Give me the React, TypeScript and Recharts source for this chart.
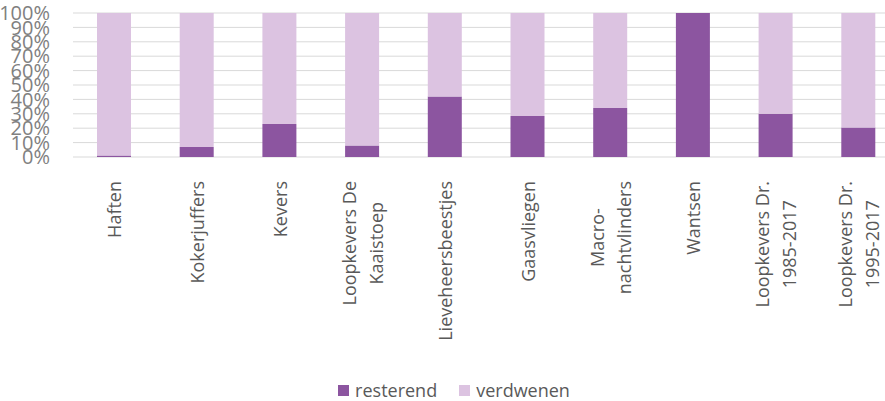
import React from 'react';
import { BarChart, Bar, XAxis, YAxis, CartesianGrid, Legend } from 'recharts';

const categories = [
  'Haften',
  'Kokerjuffers',
  'Kevers',
  'Loopkevers De\nKaaistoep',
  'Lieveheersbeestjes',
  'Gaasvliegen',
  'Macro-\nnachtvlinders',
  'Wantsen',
  'Loopkevers Dr.\n1985-2017',
  'Loopkevers Dr.\n1995-2017',
];
const resterend = [1, 7, 23, 8, 42, 28.5, 34, 100, 30, 20.5];
const verdwenen = resterend.map((v) => 100 - v);
const yTicks = [0, 10, 20, 30, 40, 50, 60, 70, 80, 90, 100];

const data = categories.map((name, i) => ({
  name,
  resterend: resterend[i],
  verdwenen: verdwenen[i],
}));

const DARK = '#8c55a0';
const LIGHT = '#dcc3e1';
const TEXT = '#595959';

let ctx: CanvasRenderingContext2D | null = null;
function measure(s: string, font: string) {
  if (!ctx) ctx = document.createElement('canvas').getContext('2d');
  if (!ctx) return s.length * 9.5;
  ctx.font = font;
  return ctx.measureText(s).width;
}

function CategoryTick({ x, y, payload }: any) {
  const lines = String(payload.value).split('\n');
  const font = "18px 'Open Sans'";
  const maxLen = Math.max(...lines.map((l) => measure(l, font)));
  const top = y + 16;
  const n = lines.length;
  return (
    <text
      transform={`translate(${x}, ${top}) rotate(-90)`}
      fontFamily="'Open Sans', sans-serif"
      fontSize={18}
      fill={TEXT}
      textAnchor="middle"
    >
      {lines.map((l, i) => (
        <tspan key={i} x={-maxLen / 2} y={7 + (i - (n - 1) / 2) * 27}>
          {l}
        </tspan>
      ))}
    </text>
  );
}

function PercentTick({ y, payload }: any) {
  return (
    <text
      x={50}
      y={y}
      dy="0.36em"
      textAnchor="end"
      fontFamily="'Open Sans', sans-serif"
      fontSize={20}
      fill="#808080"
    >
      {`${payload.value}%`}
    </text>
  );
}

function LegendContent() {
  const items = [
    { label: 'resterend', color: DARK },
    { label: 'verdwenen', color: LIGHT },
  ];
  return (
    <div
      style={{
        display: 'flex',
        justifyContent: 'center',
        gap: 22,
        fontFamily: "'Open Sans', sans-serif",
        fontSize: 18,
        lineHeight: '18px',
        color: TEXT,
        height: 30,
        boxSizing: 'border-box',
        paddingTop: 8,
        paddingLeft: 8,
        alignItems: 'center',
      }}
    >
      {items.map((it) => (
        <div key={it.label} style={{ display: 'flex', alignItems: 'center' }}>
          <span style={{ width: 11, height: 11, background: it.color, marginRight: 6, display: 'inline-block' }} />
          <span>{it.label}</span>
        </div>
      ))}
    </div>
  );
}

export default function App() {
  return (
    <div style={{ position: 'absolute', left: 0, top: 0, width: 885, height: 401, overflow: 'hidden', background: '#fff' }}>
      <BarChart
        width={900}
        height={401}
        data={data}
        margin={{ top: 13, right: 0, bottom: 0, left: 0 }}
      >
        <CartesianGrid vertical={false} stroke="#d9d9d9" />
        <XAxis
          dataKey="name"
          axisLine={false}
          tickLine={false}
          interval={0}
          height={214}
          tick={<CategoryTick />}
        />
        <YAxis
          width={73}
          domain={[0, 100]}
          ticks={yTicks}
          interval={0}
          axisLine={false}
          tickLine={false}
          tick={<PercentTick />}
        />
        <Legend verticalAlign="bottom" content={<LegendContent />} />
        <Bar dataKey="resterend" stackId="a" fill={DARK} barSize={34} isAnimationActive={false} />
        <Bar dataKey="verdwenen" stackId="a" fill={LIGHT} barSize={34} isAnimationActive={false} />
      </BarChart>
    </div>
  );
}
